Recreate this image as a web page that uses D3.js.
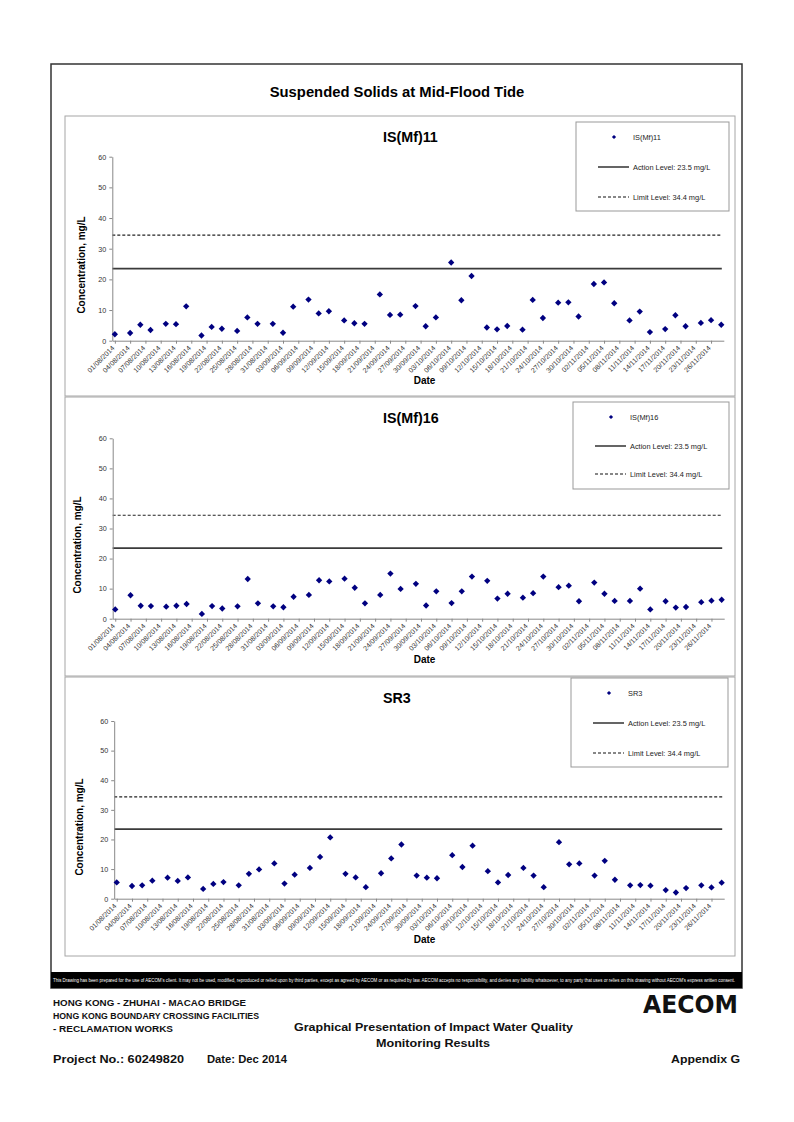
<!DOCTYPE html>
<html><head><meta charset="utf-8">
<script src="https://cdn.jsdelivr.net/npm/d3@7"></script>
<style>
html,body{margin:0;padding:0;background:#fff;}
svg{display:block;font-family:Arial,"Liberation Sans",Helvetica,sans-serif;}
</style></head><body>
<svg id="page" width="794" height="1122"></svg>
<script>
// ---------------- DATA ----------------
const sampleDates = [
  "01/08/2014","04/08/2014","06/08/2014","08/08/2014","11/08/2014","13/08/2014","15/08/2014","18/08/2014","20/08/2014","22/08/2014","25/08/2014","27/08/2014","29/08/2014",
  "01/09/2014","03/09/2014","05/09/2014","08/09/2014","10/09/2014","12/09/2014","15/09/2014","17/09/2014","19/09/2014","22/09/2014","24/09/2014","26/09/2014","29/09/2014",
  "01/10/2014","03/10/2014","06/10/2014","08/10/2014","10/10/2014","13/10/2014","15/10/2014","17/10/2014","20/10/2014","22/10/2014","24/10/2014","27/10/2014","29/10/2014","31/10/2014",
  "03/11/2014","05/11/2014","07/11/2014","10/11/2014","12/11/2014","14/11/2014","17/11/2014","19/11/2014","21/11/2014","24/11/2014","26/11/2014","28/11/2014"
];
const ismf11Values = [
  2.1, 2.5, 5.2, 3.5, 5.5, 5.4, 11.2, 1.7, 4.5, 3.9, 3.2, 7.6, 5.5,
  5.5, 2.6, 11.1, 13.4, 8.9, 9.6, 6.6, 5.7, 5.5, 15.1, 8.4, 8.5, 11.3,
  4.7, 7.6, 25.5, 13.2, 21.1, 4.3, 3.7, 4.8, 3.6, 13.3, 7.4, 12.4, 12.5, 7.9,
  18.5, 19.0, 12.2, 6.6, 9.5, 2.8, 3.8, 8.3, 4.7, 5.8, 6.7, 5.2
];
const ismf16Values = [
  3.1, 7.8, 4.3, 4.2, 4.0, 4.3, 4.9, 1.6, 4.2, 3.4, 4.1, 13.2, 5.1,
  4.1, 3.8, 7.3, 7.9, 12.8, 12.4, 13.3, 10.3, 5.1, 7.9, 15.0, 9.9, 11.6,
  4.4, 9.1, 5.2, 9.1, 14.0, 12.6, 6.7, 8.3, 7.0, 8.5, 14.0, 10.5, 11.0, 5.8,
  12.0, 8.3, 5.9, 5.9, 10.0, 3.1, 5.8, 3.7, 3.9, 5.5, 6.0, 6.3
];
const sr3Values = [
  5.5, 4.3, 4.5, 6.1, 7.1, 6.0, 7.2, 3.3, 5.0, 5.6, 4.5, 8.4, 9.9,
  11.9, 5.1, 8.1, 10.4, 14.1, 20.7, 8.4, 7.2, 3.9, 8.6, 13.6, 18.3, 7.8,
  7.1, 6.9, 14.7, 10.7, 17.9, 9.3, 5.5, 8.0, 10.4, 7.8, 3.9, 19.1, 11.6, 11.9,
  7.8, 12.8, 6.4, 4.5, 4.6, 4.4, 2.9, 2.1, 3.6, 4.5, 3.8, 5.4
];
const stationNames = ["IS(Mf)11", "IS(Mf)16", "SR3"];
const tickLabels = [
  "01/08/2014","04/08/2014","07/08/2014","10/08/2014","13/08/2014","16/08/2014","19/08/2014","22/08/2014","25/08/2014","28/08/2014","31/08/2014",
  "03/09/2014","06/09/2014","09/09/2014","12/09/2014","15/09/2014","18/09/2014","21/09/2014","24/09/2014","27/09/2014","30/09/2014",
  "03/10/2014","06/10/2014","09/10/2014","12/10/2014","15/10/2014","18/10/2014","21/10/2014","24/10/2014","27/10/2014","30/10/2014",
  "02/11/2014","05/11/2014","08/11/2014","11/11/2014","14/11/2014","17/11/2014","20/11/2014","23/11/2014","26/11/2014"
];
const yTickValues = [0, 10, 20, 30, 40, 50, 60];
const axisStart = "01/08/2014";
const axisEnd = "29/11/2014";
const actionLevel = 23.5;
const limitLevel = 34.4;
const mainTitle = "Suspended Solids at Mid-Flood Tide";

// ---------------- LAYOUT ----------------
const svg = d3.select("#page");
const parse = d3.timeParse("%d/%m/%Y");
const fmt = d3.timeFormat("%d/%m/%Y");
const halfDay = 12 * 3600 * 1000;
const center = s => new Date(parse(s).getTime() + halfDay);

const seriesValues = [ismf11Values, ismf16Values, sr3Values];
const panels = [
  {top:116, bottom:396, x0:112.3, x1:723.8, y0:340.7, y1:156.7, titleY:141.7, ylabX:84.5, ylabY:265, dateY:384,
   leg:{x:576, y:122, w:153, h:89, d:[15,45,75]}},
  {top:397, bottom:676, x0:112.7, x1:724.2, y0:618.7, y1:438.3, titleY:422.7, ylabX:81, ylabY:545, dateY:663,
   leg:{x:573, y:402, w:156, h:87, d:[15,44,72]}},
  {top:677, bottom:956, x0:114.2, x1:724.2, y0:898.7, y1:721, titleY:702.7, ylabX:82.5, ylabY:827, dateY:943,
   leg:{x:571, y:678, w:157, h:89, d:[15,45,75]}}
];

// outer frame
svg.append("rect").attr("x",51).attr("y",64).attr("width",691).attr("height",924)
  .attr("fill","none").attr("stroke","#333").attr("stroke-width",1.5);

svg.append("text").attr("x",397).attr("y",96.7).attr("text-anchor","middle")
  .attr("font-size",14.8).attr("font-weight","bold").attr("fill","#000").text(mainTitle);

const diamond = d3.symbol().type(d3.symbolSquare).size(20);
const diamondSmall = d3.symbol().type(d3.symbolSquare).size(9);

panels.forEach((p, i) => {
  const g = svg.append("g");
  const vals = seriesValues[i];
  // panel border
  g.append("rect").attr("x",65).attr("y",p.top).attr("width",670).attr("height",p.bottom-p.top)
    .attr("fill","#fff").attr("stroke","#a6a6a6").attr("stroke-width",1);

  const x = d3.scaleTime().domain([parse(axisStart), parse(axisEnd)]).range([p.x0, p.x1]);
  const y = d3.scaleLinear().domain([0, 60]).range([p.y0, p.y1]);

  // reference lines
  g.append("line").attr("x1",x.range()[0]).attr("x2",x.range()[1]-2)
    .attr("y1",y(actionLevel)).attr("y2",y(actionLevel))
    .attr("stroke","#3a3a3a").attr("stroke-width",1.7);
  g.append("line").attr("x1",x.range()[0]).attr("x2",x.range()[1]-2)
    .attr("y1",y(limitLevel)).attr("y2",y(limitLevel))
    .attr("stroke","#222").attr("stroke-width",1.2).attr("stroke-dasharray","3,2");

  // y axis
  const ya = g.append("g").attr("transform",`translate(${p.x0},0)`)
    .call(d3.axisLeft(y).tickValues(yTickValues).tickSize(3).tickSizeOuter(0).tickPadding(3));
  ya.select(".domain").attr("stroke","#888");
  ya.selectAll(".tick line").attr("stroke","#888");
  ya.selectAll(".tick text").attr("font-size",7.2).attr("fill","#333").attr("font-family","Arial,'Liberation Sans',sans-serif");

  // x axis
  const xa = g.append("g").attr("transform",`translate(0,${p.y0})`)
    .call(d3.axisBottom(x).tickValues(tickLabels.map(center)).tickFormat(fmt).tickSize(3).tickSizeOuter(0));
  xa.select(".domain").attr("stroke","#888");
  xa.selectAll(".tick line").attr("stroke","#888");
  xa.selectAll(".tick text")
    .attr("font-size",7).attr("fill","#333").attr("font-family","Arial,'Liberation Sans',sans-serif")
    .attr("text-anchor","end").attr("y",0).attr("dy","0.35em")
    .attr("transform","translate(-2,6) rotate(-45)");

  // points
  g.selectAll("path.pt").data(sampleDates.map((d, k) => ({d: center(d), v: vals[k]})))
    .enter().append("path").attr("class","pt")
    .attr("d", diamond)
    .attr("transform", d => `translate(${x(d.d)},${y(d.v)}) rotate(45)`)
    .attr("fill","#000080");

  // titles
  g.append("text").attr("x",383).attr("y",p.titleY).attr("font-size",14.3).attr("font-weight","bold").text(stationNames[i]);
  g.append("text").attr("transform",`translate(${p.ylabX},${p.ylabY}) rotate(-90)`).attr("text-anchor","middle")
    .attr("font-size",10).attr("font-weight","bold").text("Concentration, mg/L");
  g.append("text").attr("x",424.5).attr("y",p.dateY).attr("text-anchor","middle")
    .attr("font-size",10).attr("font-weight","bold").text("Date");

  // legend
  const L = p.leg;
  const lg = g.append("g");
  lg.append("rect").attr("x",L.x).attr("y",L.y).attr("width",L.w).attr("height",L.h)
    .attr("fill","#fff").attr("stroke","#999").attr("stroke-width",1);
  lg.append("path").attr("d",diamondSmall).attr("transform",`translate(${L.x+38},${L.y+L.d[0]}) rotate(45)`).attr("fill","#000080");
  lg.append("line").attr("x1",L.x+22).attr("x2",L.x+53).attr("y1",L.y+L.d[1]).attr("y2",L.y+L.d[1])
    .attr("stroke","#111").attr("stroke-width",1.3);
  lg.append("line").attr("x1",L.x+22).attr("x2",L.x+53).attr("y1",L.y+L.d[2]).attr("y2",L.y+L.d[2])
    .attr("stroke","#111").attr("stroke-width",1.1).attr("stroke-dasharray","3,2");
  const legTexts = [stationNames[i], `Action Level: ${actionLevel} mg/L`, `Limit Level: ${limitLevel} mg/L`];
  legTexts.forEach((t, k) => {
    lg.append("text").attr("x",L.x+57).attr("y",L.y+L.d[k]).attr("dy","0.35em")
      .attr("font-size",7.4).attr("fill","#222").text(t);
  });
});

// ---------------- FOOTER ----------------
svg.append("rect").attr("x",51).attr("y",972).attr("width",691).attr("height",16).attr("fill","#000");
svg.append("text").attr("x",53).attr("y",982).attr("font-size",4.6).attr("fill","#fff")
  .attr("font-family","'Liberation Sans Narrow','Liberation Sans',Arial,sans-serif")
  .attr("textLength",682).attr("lengthAdjust","spacingAndGlyphs")
  .text("This Drawing has been prepared for the use of AECOM's client. It may not be used, modified, reproduced or relied upon by third parties, except as agreed by AECOM or as required by law. AECOM accepts no responsibility, and denies any liability whatsoever, to any party that uses or relies on this drawing without AECOM's express written consent.");

const footerFont = "'Liberation Sans Narrow','Liberation Sans',Arial,sans-serif";
const footerItems = [
  {t:"HONG KONG - ZHUHAI - MACAO BRIDGE", x:53, y:1006, w:193, fs:9.8},
  {t:"HONG KONG BOUNDARY CROSSING FACILITIES", x:53, y:1019, w:206, fs:9.8},
  {t:"- RECLAMATION WORKS", x:53, y:1032, w:120, fs:9.8},
  {t:"Graphical Presentation of Impact Water Quality", x:294, y:1031, w:279, fs:11.5},
  {t:"Monitoring Results", x:376, y:1047, w:114, fs:11.5},
  {t:"Project No.: 60249820", x:53, y:1063, w:131, fs:11},
  {t:"Date: Dec 2014", x:207, y:1063, w:80, fs:11},
  {t:"Appendix G", x:671, y:1063, w:69, fs:11}
];
footerItems.forEach(f => {
  svg.append("text").attr("x",f.x).attr("y",f.y).attr("font-size",f.fs).attr("font-weight","bold")
    .attr("font-family",footerFont).attr("fill","#111")
    .attr("textLength",f.w).attr("lengthAdjust","spacingAndGlyphs").text(f.t);
});
svg.append("text").attr("x",643).attr("y",1013).attr("font-size",24).attr("font-weight","900")
  .attr("font-family","'DejaVu Sans',Arial,sans-serif").attr("fill","#111")
  .attr("textLength",95).attr("lengthAdjust","spacingAndGlyphs").text("AECOM");
</script>
</body></html>
